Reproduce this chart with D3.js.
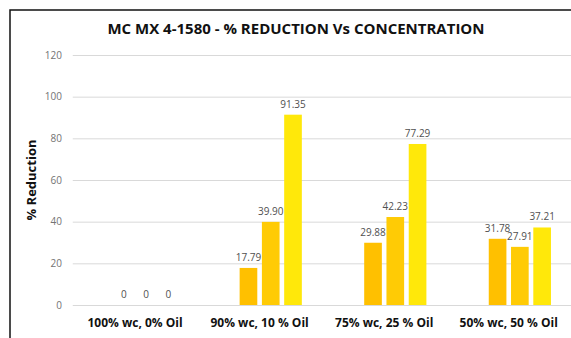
<!DOCTYPE html>
<html><head><meta charset="utf-8">
<script src="https://cdn.jsdelivr.net/npm/d3@7"></script>
<style>html,body{margin:0;padding:0;background:#fff;overflow:hidden}</style>
</head><body>
<svg id="chart" width="571" height="338"></svg>
<script>
const title = "MC MX 4-1580 - % REDUCTION Vs CONCENTRATION";
const yTitle = "% Reduction";
const categories = ["100% wc, 0% Oil", "90% wc, 10 % Oil", "75% wc, 25 % Oil", "50% wc, 50 % Oil"];
const seriesSlots = ["(blank)", "Series A", "Series B", "Series C"];
const seriesA = [0, 17.79, 29.88, 31.78];
const seriesB = [0, 39.90, 42.23, 27.91];
const seriesC = [0, 91.35, 77.29, 37.21];
const yTicks = [0, 20, 40, 60, 80, 100, 120];
const colors = {"Series A": "#FFC000", "Series B": "#FFCB05", "Series C": "#FFE80A"};

const series = [
  {name: "Series A", values: seriesA},
  {name: "Series B", values: seriesB},
  {name: "Series C", values: seriesC}
];

const svg = d3.select("#chart");
const m = {left: 72.75, right: 571, top: 55, bottom: 305};

// frame
svg.append("path").attr("d", "M10,345 V10 H580")
  .attr("fill", "none").attr("stroke", "#111").attr("stroke-width", 1.5);

const x0 = d3.scaleBand().domain(categories).range([m.left, m.right]).padding(0);
const x1 = d3.scaleBand().domain(seriesSlots).range([0, x0.bandwidth()]).paddingInner(0.207).paddingOuter(0.9);
const y = d3.scaleLinear().domain([0, 120]).range([m.bottom, m.top]);

// gridlines
svg.append("g").selectAll("line").data(yTicks).join("line")
  .attr("x1", m.left).attr("x2", m.right)
  .attr("y1", d => y(d) + 0.5).attr("y2", d => y(d) + 0.5)
  .attr("stroke", "#d9d9d9").attr("stroke-width", 1);

// y tick labels
svg.append("g").selectAll("text").data(yTicks).join("text")
  .attr("x", 62).attr("y", d => y(d)).attr("dy", "0.35em")
  .attr("text-anchor", "end")
  .attr("font-family", "Open Sans, sans-serif").attr("font-size", 10)
  .attr("fill", "#737373").text(d => d);

// bars
const g = svg.append("g");
series.forEach(s => {
  const gs = g.append("g");
  gs.selectAll("rect").data(s.values).join("rect")
    .attr("x", (d, i) => x0(categories[i]) + x1(s.name))
    .attr("width", x1.bandwidth())
    .attr("y", d => y(d))
    .attr("height", d => y(0) - y(d))
    .attr("fill", colors[s.name]);
  gs.selectAll("text").data(s.values).join("text")
    .attr("x", (d, i) => x0(categories[i]) + x1(s.name) + x1.bandwidth() / 2)
    .attr("y", d => y(d) - 7)
    .attr("text-anchor", "middle")
    .attr("font-family", "Open Sans, sans-serif").attr("font-size", 10)
    .attr("fill", "#505050")
    .text(d => d === 0 ? "0" : d3.format(".2f")(d));
});

// category labels
svg.append("g").selectAll("text").data(categories).join("text")
  .attr("x", d => x0(d) + x0.bandwidth() / 2).attr("y", 327)
  .attr("text-anchor", "middle")
  .attr("font-family", "Open Sans, sans-serif").attr("font-weight", "bold").attr("font-size", 12)
  .attr("fill", "#111").text(d => d);

// y title
svg.append("text")
  .attr("transform", `translate(36,${(m.top + m.bottom) / 2}) rotate(-90)`)
  .attr("text-anchor", "middle")
  .attr("font-family", "Open Sans, sans-serif").attr("font-weight", "bold").attr("font-size", 13)
  .attr("fill", "#111").text(yTitle);

// title
svg.append("text")
  .attr("x", 296).attr("y", 33.5).attr("text-anchor", "middle")
  .attr("font-family", "Open Sans, sans-serif").attr("font-weight", "bold").attr("font-size", 15)
  .attr("fill", "#111").text(title);
</script>
</body></html>
